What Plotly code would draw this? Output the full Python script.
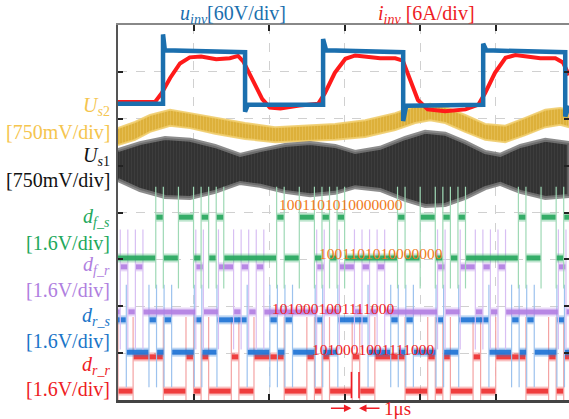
import plotly.graph_objects as go

# ---------------- data (time in us, 10 us/div; vertical in screen divisions, 8 div) ----------------
x_range = [0, 59.7]
y_range = [0, 8]
grid_x = [10, 20, 30, 40, 50]
grid_y = [1, 2, 3, 4, 5, 6, 7]

# u_inv (square wave) breakpoints
u_inv_t = [0, 5.96, 5.96, 6.2, 16.82, 16.82, 17.2, 27.15, 27.15, 27.55, 37.75, 37.75, 38.15,
           48.34, 48.34, 48.74, 59.2, 59.2, 59.7]
u_inv_v = [6.32, 6.32, 7.80, 7.46, 7.42, 6.15, 6.30, 6.30, 7.70, 7.46, 7.42, 5.95, 6.28,
           6.30, 7.60, 7.46, 7.42, 6.05, 6.28]

# i_inv breakpoints
i_inv_t = [0, 4.9, 5.8, 6.9, 8.2, 9.5, 11.0, 13.0, 14.8, 15.9, 16.6, 17.8, 19.1, 20.1, 21.5, 24.0,
           26.5, 27.4, 28.7, 30.1, 31.4, 34.7, 36.7, 37.7, 38.7, 39.7, 41.0, 43.3, 46.0, 47.7, 48.6,
           49.9, 51.3, 52.6, 55.9, 57.9, 58.9, 59.7]
i_inv_v = [6.36, 6.36, 6.55, 6.87, 7.18, 7.31, 7.33, 7.27, 7.29, 7.34, 7.22, 6.82, 6.42, 6.24, 6.22,
           6.28, 6.32, 6.55, 6.98, 7.28, 7.35, 7.29, 7.29, 7.24, 6.80, 6.40, 6.20, 6.16, 6.20, 6.30,
           6.55, 6.98, 7.30, 7.36, 7.29, 7.29, 7.20, 6.93]

# Us2 envelope
us2_t = [0, 2.25, 4.24, 6.89, 9.54, 12.85, 16.82, 20.79, 24.77, 28.74, 32.72, 36.69, 39.34, 41.32,
         43.31, 45.96, 48.61, 51.26, 53.91, 56.56, 58.54, 59.74]
us2_hi = [5.80, 5.93, 6.08, 6.19, 6.12, 6.02, 5.91, 5.82, 5.85, 5.89, 5.97, 6.12, 6.27, 6.32,
          6.25, 6.08, 5.89, 5.85, 6.02, 6.19, 6.23, 6.19]
us2_lo = [5.44, 5.55, 5.72, 5.85, 5.80, 5.68, 5.57, 5.50, 5.53, 5.55, 5.61, 5.76, 5.91, 5.97,
          5.91, 5.72, 5.55, 5.50, 5.65, 5.82, 5.87, 5.82]

# Us1 envelope
us1_t = [0, 2.91, 6.23, 9.54, 12.85, 16.16, 18.81, 22.12, 25.43, 28.74, 31.39, 34.7, 38.01, 40.66,
         43.31, 45.96, 48.61, 50.6, 53.25, 56.56, 59.74]
us1_hi = [5.33, 5.48, 5.59, 5.55, 5.42, 5.23, 5.33, 5.44, 5.48, 5.42, 5.29, 5.38, 5.59, 5.72,
          5.68, 5.50, 5.29, 5.23, 5.42, 5.55, 5.48]
us1_lo = [4.69, 4.48, 4.33, 4.31, 4.44, 4.63, 4.57, 4.44, 4.37, 4.42, 4.54, 4.48, 4.27, 4.14,
          4.16, 4.31, 4.52, 4.61, 4.44, 4.31, 4.35]

# digital frames (1 us per bit)
bit_us = 1.0
frame_f = "1001101010000000"
frame_r = "1010001001111000"
dfs_starts = [-11.0, 5.0, 21.0, 37.0, 53.0]
dfr_starts = [-5.7, 10.3, 26.3, 42.3, 58.3]
drs_starts = [-11.9, 4.1, 20.1, 36.1, 52.1]
drr_starts = [-7.0, 9.0, 25.0, 41.0, 57.0]
dfs_levels = [3.03, 3.90]
dfr_levels = [1.88, 2.84]
drs_levels = [1.02, 1.71]
drr_levels = [0.19, 0.92]

# labels
left_labels = [
    ("<i>U</i><sub><i>s</i>2</sub>", 6.26, "#F5C54E"),
    ("[750mV/div]", 5.72, "#F5C54E"),
    ("<i>U</i><sub><i>s</i>1</sub>", 5.20, "#111111"),
    ("[750mV/div]", 4.70, "#111111"),
    ("<i>d</i><sub><i>f_s</i></sub>", 3.89, "#22A85C"),
    ("[1.6V/div]", 3.35, "#22A85C"),
    ("<i>d</i><sub><i>f_r</i></sub>", 2.86, "#B07FE0"),
    ("[1.6V/div]", 2.35, "#B07FE0"),
    ("<i>d</i><sub><i>r_s</i></sub>", 1.79, "#1A75C8"),
    ("[1.6V/div]", 1.25, "#1A75C8"),
    ("<i>d</i><sub><i>r_r</i></sub>", 0.74, "#EE1C24"),
    ("[1.6V/div]", 0.24, "#EE1C24"),
]
bit_labels = [
    (frame_f, dfs_starts[2], 4.18, "#F07A1A"),
    (frame_f, dfr_starts[2], 3.13, "#F07A1A"),
    (frame_r, drs_starts[2], 1.96, "#EE1C24"),
    (frame_r, drr_starts[2] + 0.4, 1.07, "#EE1C24"),
]
marker_t = [30.9, 31.9]

SERIF = "Liberation Serif"


def runs(starts, frame):
    bits = []
    for s in starts:
        for k, ch in enumerate(frame):
            bits.append((s + k * bit_us, int(ch)))
    bits.sort()
    merged = []
    for t, b in bits:
        if merged and merged[-1][2] == b and abs(merged[-1][1] - t) < 1e-6:
            merged[-1][1] = t + bit_us
        else:
            merged.append([t, t + bit_us, b])
    return merged


fig = go.Figure()

# Us2 band
fig.add_trace(go.Scatter(x=us2_t + us2_t[::-1], y=us2_hi + us2_lo[::-1], fill="toself",
                         fillcolor="#E0B43E", line=dict(color="rgba(240,205,110,0.9)", width=2),
                         fillpattern=dict(shape="|", fgcolor="#EDCB6C", bgcolor="#DDB03A",
                                          size=3, solidity=0.3),
                         mode="lines", hoverinfo="skip"))
# Us1 band
fig.add_trace(go.Scatter(x=us1_t + us1_t[::-1], y=us1_hi + us1_lo[::-1], fill="toself",
                         fillcolor="#3A3A3A", line=dict(color="rgba(120,120,120,0.85)", width=4),
                         fillpattern=dict(shape="|", fgcolor="#4A4A4A", bgcolor="#333333",
                                          size=3, solidity=0.3),
                         mode="lines", hoverinfo="skip"))


def add_digital(starts, frame, levels, main, light, halo, ov):
    rr = runs(starts, frame)
    tx, ty = [], []
    for i in range(1, len(rr)):
        t = rr[i][0]
        tx += [t, t, None]
        ty += [levels[0] - ov, levels[1] + ov, None]
    fig.add_trace(go.Scatter(x=tx, y=ty, mode="lines", line=dict(color=light, width=1.2),
                             hoverinfo="skip"))
    lx, ly = [], []
    for a, b, bit in rr:
        lx += [a + 0.08, b - 0.08, None]
        ly += [levels[bit], levels[bit], None]
    fig.add_trace(go.Scatter(x=lx, y=ly, mode="lines", line=dict(color=halo, width=9),
                             hoverinfo="skip"))
    fig.add_trace(go.Scatter(x=lx, y=ly, mode="lines", line=dict(color=main, width=5),
                             opacity=0.9, hoverinfo="skip"))


add_digital(drr_starts, frame_r, drr_levels, "#EE3030", "#F4A3A3", "rgba(238,48,48,0.3)", 0.85)
add_digital(drs_starts, frame_r, drs_levels, "#1F74D6", "#9CC2EE", "rgba(31,116,214,0.3)", 0.75)
add_digital(dfr_starts, frame_f, dfr_levels, "#B27FE3", "#D8BFF3", "rgba(178,127,227,0.3)", 0.8)
add_digital(dfs_starts, frame_f, dfs_levels, "#27A85E", "#9ED9B5", "rgba(39,168,94,0.3)", 0.65)

# i_inv and u_inv
fig.add_trace(go.Scatter(x=i_inv_t, y=i_inv_v, mode="lines", line=dict(color="#FF1A1A", width=4),
                         hoverinfo="skip"))
fig.add_trace(go.Scatter(x=u_inv_t, y=u_inv_v, mode="lines", line=dict(color="#1B6FAE", width=4.5),
                         hoverinfo="skip"))

# dummy traces for mirrored axes
fig.add_trace(go.Scatter(x=[None], y=[None], xaxis="x2", yaxis="y", hoverinfo="skip"))
fig.add_trace(go.Scatter(x=[None], y=[None], xaxis="x", yaxis="y2", hoverinfo="skip"))

ann = []
for txt, yv, col in left_labels:
    ann.append(dict(text=txt, x=-0.013, xref="paper", xanchor="right", y=yv, yref="y",
                    yanchor="middle", showarrow=False, font=dict(family=SERIF, size=20, color=col)))
for txt, xs, yv, col in bit_labels:
    ann.append(dict(text=txt, x=xs, xref="x", xanchor="left", y=yv, yref="y", yanchor="middle",
                    showarrow=False, font=dict(family=SERIF, size=15.5, color=col)))
ann.append(dict(text="<i>u</i><sub><i>inv</i></sub>[60V/div]", x=15.2, xref="x", y=1.027,
                yref="paper", yanchor="middle", showarrow=False,
                font=dict(family=SERIF, size=20, color="#1B6FAE")))
ann.append(dict(text="<i>i</i><sub><i>inv</i></sub> [6A/div]", x=40.9, xref="x", y=1.027,
                yref="paper", yanchor="middle", showarrow=False,
                font=dict(family=SERIF, size=20, color="#EE1C24")))
# 1 us marker arrows and label
ann.append(dict(text="", x=marker_t[0], xref="x", y=-0.022, yref="paper", ax=-22, ay=0,
                showarrow=True, arrowhead=2, arrowsize=1, arrowwidth=1.5, arrowcolor="#EE1C24"))
ann.append(dict(text="", x=marker_t[1], xref="x", y=-0.022, yref="paper", ax=22, ay=0,
                showarrow=True, arrowhead=2, arrowsize=1, arrowwidth=1.5, arrowcolor="#EE1C24"))
ann.append(dict(text="1μs", x=marker_t[1] + 3.0, xref="x", xanchor="left", y=-0.022, yref="paper",
                yanchor="middle", showarrow=False, font=dict(family=SERIF, size=19, color="#EE1C24")))

shapes = []
for t in marker_t:
    shapes.append(dict(type="line", x0=t, x1=t, xref="x", y0=0.04, y1=0.6, yref="y",
                       line=dict(color="#EE1C24", width=1.5)))

fig.update_layout(
    width=569, height=419,
    margin=dict(l=118, r=0, t=25, b=19),
    paper_bgcolor="white", plot_bgcolor="white",
    showlegend=False,
    annotations=ann, shapes=shapes,
    xaxis=dict(range=x_range, tickvals=grid_x, showticklabels=False, ticks="inside", ticklen=6,
               tickwidth=1.5, tickcolor="#222", showgrid=True, gridcolor="#D0D0D0", griddash="dash",
               gridwidth=1, showline=True, linecolor="#444", linewidth=2.5, zeroline=False),
    xaxis2=dict(range=x_range, overlaying="x", side="top", anchor="y", tickvals=grid_x,
                showticklabels=False, ticks="inside", ticklen=6, tickwidth=1.5, tickcolor="#222",
                showgrid=False, showline=True, linecolor="#888", linewidth=1.5, zeroline=False),
    yaxis=dict(range=y_range, tickvals=grid_y, showticklabels=False, ticks="inside", ticklen=5,
               tickwidth=1.5, tickcolor="#222", showgrid=True, gridcolor="#D0D0D0", griddash="dash",
               gridwidth=1, showline=True, linecolor="#555", linewidth=2, zeroline=False),
    yaxis2=dict(range=y_range, overlaying="y", side="right", anchor="x", tickvals=grid_y,
                showticklabels=False, ticks="inside", ticklen=5, tickwidth=1.5, tickcolor="#222",
                showgrid=False, showline=False, zeroline=False),
)

fig.write_html("out.html", config={"displayModeBar": False},
               post_script="document.body.style.margin='0';document.body.style.overflow='hidden';")
